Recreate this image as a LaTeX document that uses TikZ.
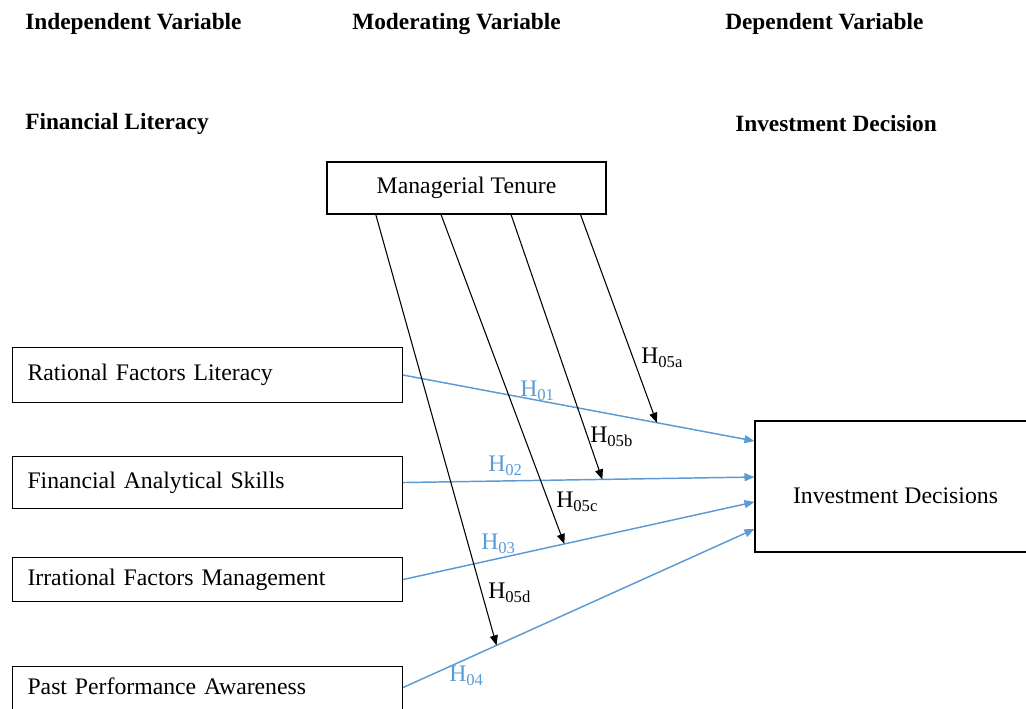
\documentclass[tikz,border=0pt]{standalone}
\usepackage{fontspec}
\setmainfont{Liberation Serif}
\usepackage{xcolor}
\usepackage{tikz}
\usetikzlibrary{calc,arrows.meta}
\definecolor{hipazul}{RGB}{91,155,213}

\begin{document}
\begin{tikzpicture}[x=0.75pt, y=-0.75pt, >={Triangle[length=7.5pt,width=6pt]},
    font=\fontsize{17.8}{21}\selectfont,
    caja/.style={draw, line width=0.8pt, inner sep=0pt},
    factor/.style={caja, anchor=north west, text width=270pt, inner xsep=11.25pt, align=left},
    titulo/.style={anchor=west, inner sep=0pt, font=\fontsize{17.5}{21}\selectfont\bfseries},
    enlace/.style={->, hipazul, line width=1.1pt},
    moder/.style={->, black, line width=0.8pt},
    hlab/.style={anchor=west, inner sep=0pt}]
    \useasboundingbox (0,0) rectangle (1026,708);
    % titulos
    \node[titulo] (tind) at (25,24) {Independent Variable};
    \node[titulo] (tmod) at (352,24) {Moderating Variable};
    \node[titulo] (tdep) at (725,24) {Dependent Variable};
    \node[titulo] (tfin) at (25,124) {Financial Literacy};
    \node[titulo] (tinv) at (735,124) {Investment Decision};
    % cajas
    \node[caja, minimum width=209.25pt, minimum height=39pt] (mt) at (466.5,188) {Managerial Tenure};
    \node[factor, minimum height=41.25pt] (rf) at (12,347) {Rational Factors Literacy};
    \node[factor, minimum height=39pt] (fa) at (12,456) {Financial Analytical Skills};
    \node[factor, minimum height=33pt] (ir) at (12,557) {Irrational Factors Management};
    \node[factor, minimum height=40.5pt, text depth=11.5pt] (pp) at (12,666) {Past Performance Awareness};
    \node[caja, minimum width=210.75pt, minimum height=98.25pt, text height=26pt] (id) at (895.5,486.5) {Investment Decisions};
    % H01 - H04 (azul)
    \draw[enlace] (rf.east) -- coordinate[pos=0.722] (ha) ([yshift=34.1pt]id.west);
    \draw[enlace] (fa.east) -- coordinate[pos=0.567] (hb) ([yshift=7.1pt]id.west);
    \draw[enlace] (ir.east) -- coordinate[pos=0.459] (hc) ([yshift=-11.6pt]id.west);
    \draw[enlace] ([yshift=4.5pt]pp.east) -- coordinate[pos=0.266] (hd) ([yshift=-31.9pt]id.west);
    \node[hlab, hipazul] (l01) at (520,391) {H\textsubscript{01}};
    \node[hlab, hipazul] (l02) at (488,466) {H\textsubscript{02}};
    \node[hlab, hipazul] (l03) at (481,544) {H\textsubscript{03}};
    \node[hlab, hipazul] (l04) at (449,676) {H\textsubscript{04}};
    % H05a - H05d (moderadora)
    \draw[moder] ($(mt.south west)!0.907!(mt.south east)$) -- (ha);
    \draw[moder] ($(mt.south west)!0.659!(mt.south east)$) -- (hb);
    \draw[moder] ($(mt.south west)!0.409!(mt.south east)$) -- (hc);
    \draw[moder] ($(mt.south west)!0.176!(mt.south east)$) -- (hd);
    \node[hlab] (l5a) at (641,358) {H\textsubscript{05a}};
    \node[hlab] (l5b) at (590,437) {H\textsubscript{05b}};
    \node[hlab] (l5c) at (556,502) {H\textsubscript{05c}};
    \node[hlab] (l5d) at (488,593) {H\textsubscript{05d}};
\end{tikzpicture}
\end{document}
